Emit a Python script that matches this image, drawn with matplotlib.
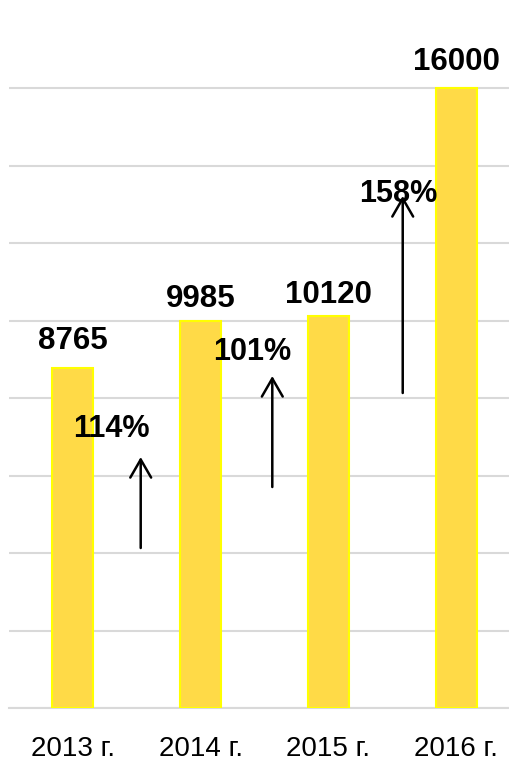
import matplotlib
matplotlib.use("Agg")
import matplotlib.pyplot as plt

categories = ["2013 г.", "2014 г.", "2015 г.", "2016 г."]
values = [8765, 9985, 10120, 16000]
label_offsets_px = [19, 14, 13, 18]

growth_labels = ["114%", "101%", "158%"]
growth_label_x = [0.30, 1.40, 2.545]
growth_label_y = [6994, 8981, 13058]
arrow_x = [0.531, 1.561, 2.582]
arrow_y0 = [4129, 5703, 8129]
arrow_y1 = [6477, 8568, 13213]

plt.rcParams['font.family'] = ['Liberation Sans', 'DejaVu Sans']

fig = plt.figure(figsize=(5.10, 7.62), dpi=100)
ax = fig.add_axes([9/510, 54/762, 511/510, 697.5/762])

x = list(range(len(categories)))
ax.bar(x, values, width=0.32, color='#FFDA47', edgecolor='#FFFF00', linewidth=1.5, zorder=3)

for xi, v, off in zip(x, values, label_offsets_px):
    ax.annotate(str(v), (xi, v), xytext=(0, off), textcoords='offset pixels',
                ha='center', va='baseline', fontsize=22.5, fontweight='bold', zorder=5)

for xa, y0, y1 in zip(arrow_x, arrow_y0, arrow_y1):
    ax.annotate('', xy=(xa, y1), xytext=(xa, y0),
                arrowprops=dict(arrowstyle='->,head_length=1.3,head_width=0.75', lw=1.8, color='black',
                                shrinkA=0, shrinkB=0), zorder=6)

for lx, ly, t in zip(growth_label_x, growth_label_y, growth_labels):
    ax.text(lx, ly, t, ha='center', va='baseline', fontsize=22, fontweight='bold', zorder=7)

ax.set_xlim(-0.5, 3.5)
ax.set_ylim(0, 18000)
ax.set_yticks(range(0, 18001, 2000))
ax.set_yticklabels([])
ax.yaxis.grid(True, color='#D9D9D9', linewidth=1.5, zorder=0)
ax.set_axisbelow(True)
ax.tick_params(axis='y', length=0)
ax.set_xticks(x)
ax.set_xticklabels(categories, fontsize=20)
ax.tick_params(axis='x', length=0, pad=20)
for s in ['top', 'right', 'left']:
    ax.spines[s].set_visible(False)
ax.spines['bottom'].set_color('#D9D9D9')
ax.spines['bottom'].set_linewidth(1.5)
ax.get_ygridlines()[-1].set_visible(False)

fig.savefig('out.png', dpi=100)
